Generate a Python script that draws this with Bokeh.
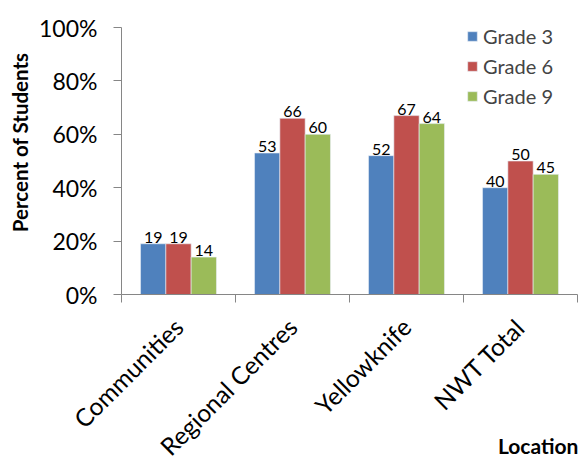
import math
from bokeh.plotting import figure
from bokeh.models import (ColumnDataSource, FixedTicker, NumeralTickFormatter, Legend,
                          LegendItem, Title, Range1d)
from bokeh.core.properties import value
from bokeh.embed import file_html
from bokeh.resources import INLINE

categories = ["Communities", "Regional Centres", "Yellowknife", "NWT Total"]
series_names = ["Grade 3", "Grade 6", "Grade 9"]
grade3 = [19, 53, 52, 40]
grade6 = [19, 66, 67, 50]
grade9 = [14, 60, 64, 45]
colors = ["#4F81BD", "#C0504D", "#9BBB59"]
y_ticks = [0, 0.2, 0.4, 0.6, 0.8, 1.0]

FONT = "Lato"

p = figure(width=578, height=461, output_backend="svg", toolbar_location=None,
           x_range=Range1d(0, len(categories)), y_range=Range1d(0, 1),
           min_border_left=120, min_border_right=1, min_border_top=27,
           min_border_bottom=167)
p.outline_line_color = None
p.xgrid.grid_line_color = None
p.ygrid.grid_line_color = None
p.background_fill_color = "white"
p.border_fill_color = "white"

bar_w = 0.222
offsets = [-bar_w, 0.0, bar_w]
renderers = []
for vals, off, col, name in zip([grade3, grade6, grade9], offsets, colors, series_names):
    xs = [i + 0.5 + off for i in range(len(categories))]
    src = ColumnDataSource(dict(x=xs, top=[v / 100 for v in vals], lab=[str(v) for v in vals]))
    r = p.vbar(x="x", top="top", width=bar_w, bottom=0, source=src, fill_color=col,
               line_color="#e8eef6", line_width=0.6)
    p.text(x="x", y="top", text="lab", source=src, text_align="center",
           text_baseline="bottom", y_offset=-1, text_font=value(FONT),
           text_font_size="16px", text_color="black")
    renderers.append(r)

# y axis
ya = p.yaxis[0]
ya.ticker = FixedTicker(ticks=y_ticks)
ya.formatter = NumeralTickFormatter(format="0%")
ya.major_label_text_font = FONT
ya.major_label_text_font_size = "23px"
ya.major_label_text_color = "black"
ya.axis_line_color = "#868686"
ya.major_tick_line_color = "#868686"
ya.major_tick_in = 0
ya.major_tick_out = 8
ya.minor_tick_line_color = None
ya.major_label_standoff = 16

# x axis: labels at category centres, ticks at boundaries (minor ticks)
xa = p.xaxis[0]
xa.ticker = FixedTicker(ticks=[i + 0.5 for i in range(len(categories))],
                        minor_ticks=list(range(len(categories) + 1)))
xa.major_label_overrides = {i + 0.5: c for i, c in enumerate(categories)}
xa.major_label_orientation = math.pi / 4
xa.major_label_text_font = FONT
xa.major_label_text_font_size = "24.5px"
xa.major_label_text_color = "black"
xa.major_tick_line_color = None
xa.minor_tick_line_color = "#868686"
xa.minor_tick_in = 0
xa.minor_tick_out = 8
xa.axis_line_color = "#868686"
xa.major_label_standoff = 20
# trailing em spaces shift the visible word left of the frame's right end
xa.axis_label = "Location" + "\u2003" * 5
xa.axis_label_align = "end"
xa.axis_label_standoff = -41
xa.axis_label_text_font = FONT
xa.axis_label_text_font_style = "bold"
xa.axis_label_text_font_size = "21px"
xa.axis_label_text_color = "black"

legend = Legend(items=[LegendItem(label=n, renderers=[r]) for n, r in zip(series_names, renderers)],
                location=(345, 186), padding=0, margin=0, spacing=6,
                glyph_width=12, glyph_height=12, label_standoff=5,
                label_text_font=FONT, label_text_font_size="20px",
                border_line_color=None, background_fill_alpha=0)
p.add_layout(legend, "center")

ytitle = Title(text="Percent of Students", align="right", offset=25,
               text_font=FONT, text_font_style="bold", text_font_size="20.5px",
               text_color="black", standoff=10)
p.add_layout(ytitle, "left")

open("out.html", "w").write(file_html(p, INLINE))
